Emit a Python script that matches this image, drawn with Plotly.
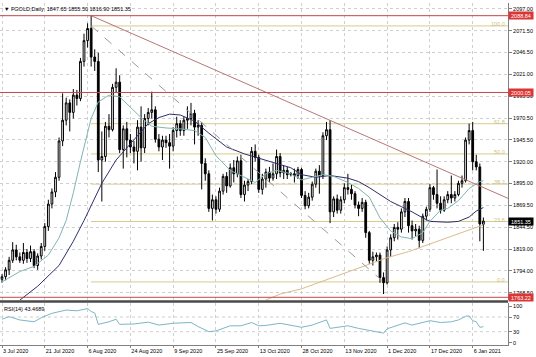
import pandas as pd
import plotly.graph_objects as go

# ---------------- trading calendar (broker had a short Sunday bar on 25 Oct) -------------
trade_days = pd.bdate_range("2020-07-03", "2021-01-11")
closed_days = pd.to_datetime(["2020-12-25", "2021-01-01"])
extra_days = pd.to_datetime(["2020-10-25"])
dates = [d.strftime("%Y-%m-%d") for d in trade_days.difference(closed_days).union(extra_days)]
pos = {d: i for i, d in enumerate(dates)}
xi = list(range(len(dates)))

# ---------------- OHLC ----------------
opens = [1784,1787,1795,1806,1818,1810,1806,1815,1808,1816,1800,1811,1822,1845,1871,1885,1902,1944,1968,1988,
         1977,1997,1993,2036,2060,2074,2041,2036,1922,1926,1961,1957,2006,2012,1934,1958,1945,1937,1932,1960,
         1936,1970,1977,1980,1946,1937,1945,1942,1938,1956,1964,1956,1968,1970,1976,1960,1962,1918,1906,1866,
         1876,1865,1886,1903,1892,1913,1906,1921,1882,1893,1897,1932,1925,1888,1900,1908,1901,1906,1926,1907,
         1910,1905,1906,1904,1911,1881,1869,1879,1894,1909,1904,1950,1957,1862,1877,1864,1876,1890,1888,1883,
         1870,1866,1873,1838,1806,1810,1812,1786,1780,1818,1832,1844,1842,1862,1874,1846,1840,1842,1829,1857,
         1865,1890,1882,1872,1864,1876,1882,1878,1882,1895,1898,1945,1956,1920,1914,1847.65]
highs = [1790,1798,1810,1827,1824,1815,1826,1819,1823,1819,1814,1826,1849,1876,1889,1908,1948,1999,1994,1992,
         2004,2003,2040,2068,2080,2088.84,2050,2046,1955,1966,1975,2010,2028,2020,1962,1966,1952,1944,1968,1984,
         1975,1982,2001,1984,1952,1950,1950,1952,1960,1972,1968,1972,1984,1988,1980,1968,1966,1924,1910,1882,
         1880,1890,1906,1908,1918,1922,1926,1928,1898,1900,1937,1940,1928,1906,1912,1914,1918,1934,1930,1916,
         1914,1908,1912,1914,1913,1886,1884,1897,1912,1916,1954,1966,1968,1880,1882,1880,1895,1906,1894,1886,
         1874,1878,1876,1840,1816,1815,1815,1792,1822,1836,1848,1850,1866,1878,1878,1852,1848,1846,1860,1868,
         1894,1892,1911,1880,1880,1886,1904,1886,1898,1904,1948,1964,1966,1928,1918,1855.50]
lows = [1780,1783,1789,1803,1806,1803,1802,1803,1804,1797,1795,1807,1817,1840,1866,1879,1898,1938,1962,1955,
        1970,1985,1990,2030,2052,2030,2025,1908,1874,1920,1948,1955,2000,1930,1912,1925,1930,1918,1910,1920,
        1930,1962,1970,1942,1932,1922,1936,1912,1932,1948,1950,1950,1958,1962,1940,1950,1888,1898,1862,1852,
        1860,1862,1882,1884,1890,1896,1902,1878,1874,1886,1894,1920,1884,1882,1890,1896,1898,1900,1902,1900,
        1900,1903,1896,1900,1878,1865,1866,1875,1890,1883,1900,1945,1849,1856,1860,1860,1872,1882,1876,1866,
        1857,1862,1832,1802,1800,1804,1780,1767,1778,1810,1828,1830,1838,1856,1838,1830,1834,1820,1826,1852,
        1862,1876,1866,1860,1862,1872,1872,1874,1880,1890,1896,1940,1910,1910,1828,1816.90]
closes = [1787,1795,1806,1818,1810,1806,1815,1808,1816,1800,1811,1822,1845,1871,1885,1902,1944,1968,1988,1977,
          1997,1993,2036,2060,2074,2041,2036,1922,1926,1961,1957,2006,2012,1934,1958,1945,1937,1932,1960,1936,
          1970,1977,1980,1946,1937,1945,1942,1938,1956,1964,1956,1968,1970,1976,1960,1962,1918,1906,1866,1876,
          1865,1886,1903,1892,1913,1906,1921,1882,1893,1897,1932,1925,1888,1900,1908,1901,1906,1926,1907,1910,
          1905,1906,1904,1911,1881,1869,1879,1894,1909,1904,1950,1957,1862,1877,1864,1876,1890,1888,1883,1870,
          1866,1873,1838,1806,1810,1812,1786,1780,1818,1832,1844,1842,1862,1874,1846,1840,1842,1829,1857,1865,
          1890,1882,1872,1864,1876,1882,1878,1882,1895,1898,1945,1956,1920,1914,1848,1851.35]

# ---------------- moving averages ----------------
fast_ma_dates = ["2020-07-03","2020-07-10","2020-07-16","2020-07-22","2020-07-27","2020-07-29","2020-07-31",
                 "2020-08-04","2020-08-07","2020-08-11","2020-08-14","2020-08-19","2020-08-24","2020-08-27",
                 "2020-09-01","2020-09-07","2020-09-11","2020-09-17","2020-09-22","2020-09-25","2020-10-01",
                 "2020-10-07","2020-10-12","2020-10-15","2020-10-20","2020-10-25","2020-10-28","2020-11-02",
                 "2020-11-05","2020-11-10","2020-11-16","2020-11-19","2020-11-24","2020-11-27","2020-12-02",
                 "2020-12-07","2020-12-10","2020-12-15","2020-12-17","2020-12-22","2020-12-24","2020-12-30",
                 "2021-01-05","2021-01-08","2021-01-11"]
fast_ma = [1781,1793,1799,1812,1832,1852,1884,1920,1970,1989,1997,1995,1983,1971,1961,1959,1958,1956,1948,
           1927,1910,1902,1896,1906,1910,1906,1899,1902,1905,1903,1896,1889,1879,1855,1840,1833,1831,1838,
           1851,1864,1866,1875,1889,1897,1898]

slow_ma_dates = ["2020-07-10","2020-07-17","2020-07-27","2020-07-31","2020-08-05","2020-08-07","2020-08-12",
                 "2020-08-18","2020-08-25","2020-08-31","2020-09-03","2020-09-08","2020-09-11","2020-09-17",
                 "2020-09-23","2020-09-30","2020-10-07","2020-10-15","2020-10-25","2020-10-28","2020-11-03",
                 "2020-11-09","2020-11-16","2020-11-19","2020-11-24","2020-11-27","2020-12-02","2020-12-07",
                 "2020-12-10","2020-12-15","2020-12-17","2020-12-24","2020-12-30","2021-01-05","2021-01-07",
                 "2021-01-11"]
slow_ma = [1760,1776,1800,1828,1852,1870,1895,1922,1946,1964,1971,1975,1974,1967,1953,1937,1929,1922,1913,
           1905,1902,1904,1901,1897,1890,1882,1874,1868,1862,1855,1851,1850,1851,1856,1863,1867]

long_ma_dates = ["2020-10-15","2020-10-21","2020-10-28","2020-11-05","2020-11-13","2020-11-23","2020-12-01",
                 "2020-12-09","2020-12-17","2020-12-28","2021-01-04","2021-01-11"]
long_ma = [1760,1767,1773,1782,1791,1800,1809,1816,1825,1834,1840,1847]

# ---------------- RSI(14) ----------------
rsi_dates = ["2020-07-03","2020-07-07","2020-07-10","2020-07-16","2020-07-20","2020-07-23","2020-07-29",
             "2020-08-03","2020-08-06","2020-08-07","2020-08-10","2020-08-11","2020-08-14","2020-08-18",
             "2020-08-19","2020-08-25","2020-08-31","2020-09-03","2020-09-09","2020-09-16","2020-09-18",
             "2020-09-23","2020-09-25","2020-10-01","2020-10-06","2020-10-09","2020-10-13","2020-10-15",
             "2020-10-21","2020-10-26","2020-10-28","2020-11-02","2020-11-06","2020-11-09","2020-11-16",
             "2020-11-19","2020-11-24","2020-11-30","2020-12-01","2020-12-03","2020-12-08","2020-12-10",
             "2020-12-15","2020-12-17","2020-12-22","2020-12-28","2020-12-30","2021-01-04","2021-01-05",
             "2021-01-06","2021-01-07","2021-01-08","2021-01-11"]
rsi = [64,71,62,57,68,80,89,87,93,85,81,50,57,64,50,51,56,48,53,55,44,30,32,46,46,55,46,47,53,46,42,48,62,
       39,46,39,33,26,38,45,54,48,55,60,55,57,62,72,73,60,57,42,43.4689]

# ---------------- levels, trend lines, labels ----------------
hlines = [2088.84, 2000.05, 1763.22]
fib_levels = [100.0, 61.8, 50.0, 38.2, 23.6, 0.0]
fib_high, fib_low = 2077.0, 1781.0
fib_dates = ["2020-08-07", "2020-11-30"]
trend_dates = ["2020-08-07", "2020-11-09"]
trend_prices = [2088.84, 1967.8]
price_ticks = [2097.00, 2071.50, 2046.50, 2021.00, 1995.50, 1970.50, 1945.50, 1920.00,
               1895.00, 1869.50, 1844.50, 1819.00, 1794.00, 1768.50]
rsi_ticks = [0, 30, 70, 100]
date_ticks = ["2020-07-03","2020-07-21","2020-08-06","2020-08-24","2020-09-09","2020-09-25",
              "2020-10-13","2020-10-28","2020-11-13","2020-12-01","2020-12-17","2021-01-06"]
date_labels = ["3 Jul 2020","21 Jul 2020","6 Aug 2020","24 Aug 2020","9 Sep 2020","25 Sep 2020",
               "13 Oct 2020","28 Oct 2020","13 Nov 2020","1 Dec 2020","17 Dec 2020","6 Jan 2021"]

FONT = "Liberation Sans, Arial, sans-serif"
FS = 5.5
GRID = "#cfcfcf"
FIB = "#d8cc8a"
x_range = [-0.56, 141.9]
main_range = [1760.1, 2103.5]
rsi_range = [-6.3, 108.2]

fig = go.Figure()
fig.add_trace(go.Candlestick(
    x=xi, open=opens, high=highs, low=lows, close=closes,
    increasing=dict(line=dict(color="#000000", width=1), fillcolor="#ffffff"),
    decreasing=dict(line=dict(color="#000000", width=1), fillcolor="#000000"),
    whiskerwidth=0, showlegend=False, hoverinfo="skip", xaxis="x", yaxis="y"))

for dts, vals, col in [(long_ma_dates, long_ma, "#d9bb8f"),
                       (slow_ma_dates, slow_ma, "#2e2e6e"),
                       (fast_ma_dates, fast_ma, "#7fb5b0")]:
    fig.add_trace(go.Scatter(x=[pos[d] for d in dts], y=vals, mode="lines",
                             line=dict(color=col, width=1), showlegend=False,
                             hoverinfo="skip", xaxis="x", yaxis="y"))

fig.add_trace(go.Scatter(x=[pos[d] for d in rsi_dates], y=rsi, mode="lines",
                         line=dict(color="#7db6c6", width=1), showlegend=False,
                         hoverinfo="skip", xaxis="x2", yaxis="y2"))

shapes = []
fx0 = pos[fib_dates[0]]
for lv in fib_levels:
    p = fib_low + (fib_high - fib_low) * lv / 100.0
    shapes.append(dict(type="line", xref="x", yref="y", x0=fx0, x1=x_range[1], y0=p, y1=p,
                       line=dict(color=FIB, width=1), layer="below"))
shapes.append(dict(type="line", xref="x", yref="y", x0=pos[fib_dates[0]], y0=fib_high,
                   x1=pos[fib_dates[1]], y1=fib_low, line=dict(color="#9a9a9a", width=1, dash="dash")))
tx0, tx1 = pos[trend_dates[0]], pos[trend_dates[1]]
slope = (trend_prices[1] - trend_prices[0]) / (tx1 - tx0)
shapes.append(dict(type="line", xref="x", yref="y", x0=tx0, y0=trend_prices[0],
                   x1=x_range[1], y1=trend_prices[0] + slope * (x_range[1] - tx0),
                   line=dict(color="#b87676", width=1)))
for h in hlines:
    shapes.append(dict(type="line", xref="x domain", yref="y", x0=0, x1=1, y0=h, y1=h,
                       line=dict(color="#c04848", width=1)))
for lv in [30, 70]:
    shapes.append(dict(type="line", xref="x2 domain", yref="y2", x0=0, x1=1, y0=lv, y1=lv,
                       line=dict(color=GRID, width=1, dash="dot"), layer="below"))
shapes.append(dict(type="line", xref="paper", yref="paper", x0=0, x1=1, y0=0.1272, y1=0.1272,
                   line=dict(color="#4a4a4a", width=2.5)))

ann = []
ann.append(dict(text="▼ FGOLD,Daily  1847.65 1855.50 1816.90 1851.35", xref="paper", yref="paper",
                x=0, y=1, xanchor="left", yanchor="top", xshift=2, yshift=-1, showarrow=False,
                font=dict(family=FONT, size=FS, color="#000000")))
ann.append(dict(text="RSI(14) 43.4689", xref="paper", yref="paper", x=0, y=0.1228,
                xanchor="left", yanchor="top", xshift=2, yshift=-1, showarrow=False,
                font=dict(family=FONT, size=FS, color="#000000")))
for lv in fib_levels:
    p = fib_low + (fib_high - fib_low) * lv / 100.0
    ann.append(dict(text="%.1f" % lv, xref="paper", yref="y", x=1, y=p, xanchor="right",
                    yanchor="middle", xshift=-1, yshift=2, showarrow=False,
                    font=dict(family=FONT, size=FS, color="#cbbf80")))
for h in hlines:
    ann.append(dict(text="%.2f" % h, xref="paper", yref="y", x=1, y=h, xanchor="left",
                    yanchor="middle", showarrow=False, bgcolor="#dc3535", width=24, height=7,
                    borderpad=0, font=dict(family=FONT, size=FS, color="#ffffff")))
ann.append(dict(text="%.2f" % closes[-1], xref="paper", yref="y", x=1, y=closes[-1], xanchor="left",
                yanchor="middle", showarrow=False, bgcolor="#000000", width=24, height=7,
                borderpad=0, font=dict(family=FONT, size=FS, color="#ffffff")))

fig.update_layout(
    width=536, height=357, margin=dict(l=0, r=28, t=3, b=12),
    paper_bgcolor="#ffffff", plot_bgcolor="#ffffff",
    font=dict(family=FONT, size=FS, color="#000000"),
    shapes=shapes, annotations=ann, showlegend=False,
    xaxis=dict(domain=[0, 1], anchor="y", range=x_range, tickvals=[pos[d] for d in date_ticks],
               showticklabels=False, showgrid=True, gridcolor=GRID, griddash="dot", gridwidth=1,
               zeroline=False, rangeslider=dict(visible=False), showline=False),
    xaxis2=dict(domain=[0, 1], anchor="y2", matches="x", range=x_range,
                tickvals=[pos[d] for d in date_ticks], ticktext=date_labels,
                ticklabelposition="outside right", ticks="outside", ticklen=2, tickcolor="#808080",
                tickfont=dict(family=FONT, size=FS), showgrid=True, gridcolor=GRID, griddash="dot",
                zeroline=False, showline=True, linecolor="#808080", linewidth=1),
    yaxis=dict(domain=[0.1316, 1], anchor="x", side="right", range=main_range,
               tickvals=price_ticks, ticktext=["%.2f" % v for v in price_ticks],
               tickfont=dict(family=FONT, size=FS), ticks="outside", ticklen=3, tickcolor="#808080",
               showgrid=True, gridcolor=GRID, griddash="dot", zeroline=False,
               showline=True, linecolor="#808080", linewidth=1, mirror=True),
    yaxis2=dict(domain=[0, 0.1228], anchor="x2", side="right", range=rsi_range,
                tickvals=rsi_ticks, ticktext=[str(v) for v in rsi_ticks],
                tickfont=dict(family=FONT, size=FS), ticks="outside", ticklen=3, tickcolor="#808080",
                showgrid=False, zeroline=False, showline=True, linecolor="#808080", linewidth=1,
                mirror=True),
)

fig.write_html("out.html", config={"displayModeBar": False},
               post_script="document.body.style.margin='0';document.body.style.padding='0';")
